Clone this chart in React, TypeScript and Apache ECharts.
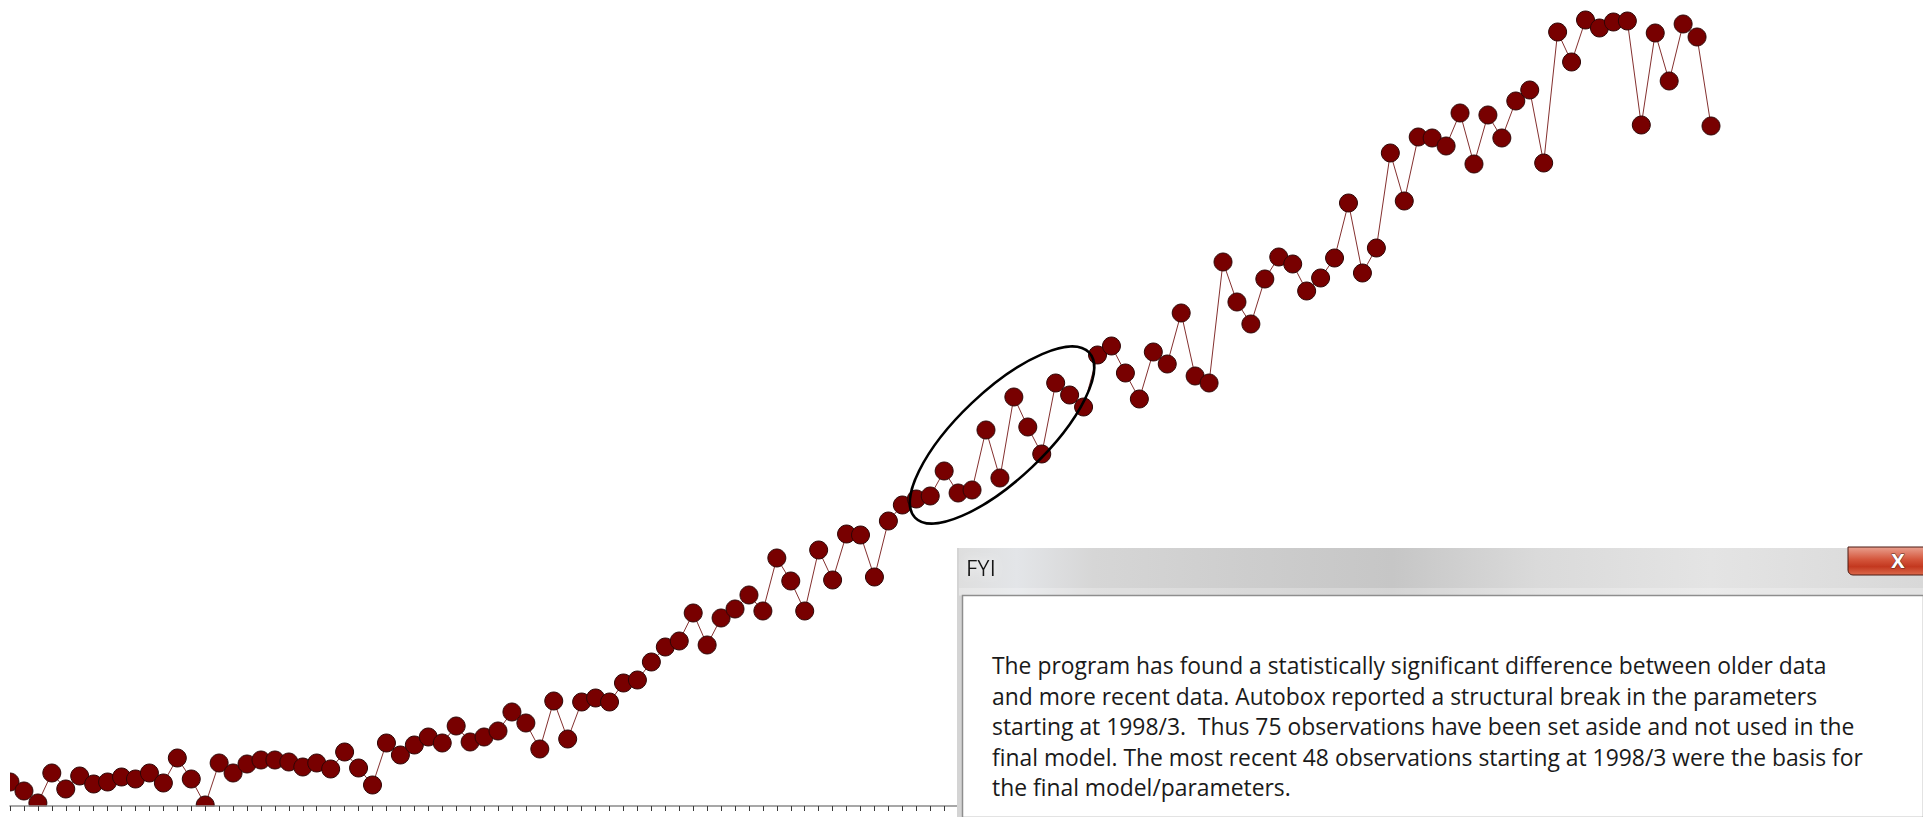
import React, { useEffect, useRef } from "react";
import * as echarts from "echarts";

// ---- data (arbitrary value units, no axis labels shown) ----
const START_YEAR = 1991;
const START_MONTH = 12;

// 75 older observations (set aside by the program)
const olderData: number[] = [
  2.4, 1.5, 0.3, 3.3, 1.7, 3.0, 2.2, 2.4, 2.9, 2.7,
  3.3, 2.3, 4.8, 2.7, 0.1, 4.3, 3.3, 4.2, 4.6, 4.6,
  4.4, 3.9, 4.3, 3.7, 5.4, 3.8, 2.1, 6.3, 5.1, 6.1,
  6.9, 6.3, 8.0, 6.4, 6.9, 7.5, 9.4, 8.3, 5.7, 10.5,
  6.7, 10.4, 10.8, 10.4, 12.3, 12.6, 14.4, 15.9, 16.5, 19.3,
  16.1, 18.8, 19.7, 21.1, 19.5, 24.8, 22.5, 19.5, 25.6, 22.6,
  27.2, 27.1, 22.9, 28.5, 30.1, 30.7, 31.0, 33.5, 31.3, 31.6,
  37.6, 32.8, 40.9, 37.9, 35.2,
];

// 48 most recent observations (from 1998/3)
const recentData: number[] = [
  42.3, 41.1, 39.9, 45.1, 46.0,
  43.3, 40.7, 45.4, 44.2, 49.3, 43.0, 42.3, 54.4, 50.4, 48.2,
  52.7, 54.9, 54.2, 51.5, 52.8, 54.8, 60.3, 53.3, 55.8, 65.3,
  60.5, 66.9, 66.8, 66.0, 69.3, 64.2, 69.1, 66.8, 70.5, 71.6,
  64.3, 77.4, 74.4, 78.6, 77.8, 78.4, 78.5, 68.1, 77.3, 72.5,
  78.2, 76.9, 68.0,
];

const values: number[] = [...olderData, ...recentData];

const categories: string[] = values.map((_, i) => {
  const m = START_MONTH - 1 + i;
  return `${START_YEAR + Math.floor(m / 12)}/${(m % 12) + 1}`;
});

const dialogTitle = "FYI";
const dialogLines: string[] = [
  "The program has found a statistically significant difference between older data",
  "and more recent data. Autobox reported a structural break in the parameters",
  "starting at 1998/3.\u00a0 Thus 75 observations have been set aside and not used in the",
  "final model. The most recent 48 observations starting at 1998/3 were the basis for",
  "the final model/parameters.",
];

const BODY_FONT = '"Open Sans", "Noto Sans", sans-serif';

function measure(text: string, font: string): number {
  const c = document.createElement("canvas").getContext("2d");
  if (!c) return text.length * 12;
  c.font = font;
  return c.measureText(text).width;
}

export default function App() {
  const ref = useRef<HTMLDivElement>(null);

  useEffect(() => {
    if (!ref.current) return;
    const chart = echarts.init(ref.current, null, { renderer: "svg" });

    const bodySize = 24;
    const line1W = measure(dialogLines[0], `${bodySize}px "Open Sans"`);
    const bodyScale = 835 / line1W;

    const W = 1923;
    const H = 817;
    const DX = 957; // dialog left
    const DY = 548; // dialog top
    const DZ = 20;

    chart.setOption({
      animation: false,
      grid: { left: 10, right: 212, top: 6, bottom: 11, containLabel: false },
      xAxis: {
        type: "category",
        data: categories,
        boundaryGap: false,
        z: 10,
        axisLine: { show: true, lineStyle: { color: "#8a8a8a", width: 1.5 } },
        axisTick: {
          show: true,
          interval: 0,
          length: 5,
          lineStyle: { color: "#3a3a3a", width: 1 },
        },
        axisLabel: { show: false },
        splitLine: { show: false },
      },
      yAxis: {
        type: "value",
        min: 0,
        max: 80,
        show: false,
        splitLine: { show: false },
      },
      series: [
        {
          type: "line",
          data: values,
          symbol: "circle",
          symbolSize: 18,
          showSymbol: true,
          showAllSymbol: true,
          clip: false,
          z: 2,
          lineStyle: { color: "#84302f", width: 1 },
          itemStyle: { color: "#780000", borderColor: "#2e0606", borderWidth: 1 },
        },
      ],
      graphic: [
        // clip marks to the plot area (below axis, left of first category)
        { type: "rect", z: 5, silent: true, shape: { x: 0, y: 806.5, width: DX, height: H - 806.5 }, style: { fill: "#ffffff" } },
        { type: "rect", z: 5, silent: true, shape: { x: 0, y: 0, width: 10, height: H }, style: { fill: "#ffffff" } },
        // annotation ellipse
        {
          type: "ellipse",
          x: 1002,
          y: 435,
          rotation: (43.5 * Math.PI) / 180,
          z: 6,
          silent: true,
          shape: { cx: 0, cy: 0, rx: 120, ry: 44 },
          style: { fill: "none", stroke: "#000000", lineWidth: 2.5 },
        },
        // dialog window
        { type: "rect", z: DZ, shape: { x: DX, y: DY, width: W - DX, height: H - DY }, style: { fill: "#d4d4d4" } },
        {
          type: "rect",
          z: DZ,
          shape: { x: DX + 2, y: DY, width: W - DX - 2, height: 48 },
          style: {
            fill: new echarts.graphic.LinearGradient(0, 0, 1, 0, [
              { offset: 0, color: "#dedede" },
              { offset: 0.06, color: "#e3e5e8" },
              { offset: 0.14, color: "#d6d6d6" },
              { offset: 0.3, color: "#cdcdcd" },
              { offset: 0.45, color: "#c6c6c6" },
              { offset: 0.6, color: "#dadada" },
              { offset: 0.78, color: "#e4e4e4" },
              { offset: 1, color: "#d8d8d8" },
            ]),
          },
        },
        { type: "rect", z: DZ, shape: { x: DX + 2, y: DY + 40, width: W - DX - 2, height: 7 }, style: { fill: "rgba(255,255,255,0.25)" } },
        {
          type: "text",
          z: DZ + 1,
          x: 966,
          y: 567,
          style: {
            text: dialogTitle,
            font: `22px ${BODY_FONT}`,
            fill: "#161616",
            align: "left",
            verticalAlign: "middle",
            textShadowColor: "rgba(255,255,255,0.95)",
            textShadowBlur: 10,
          },
        },
        // close button
        {
          type: "rect",
          z: DZ + 1,
          shape: { x: 1848, y: DY - 1, width: 90, height: 28, r: [0, 0, 0, 5] },
          style: {
            fill: new echarts.graphic.LinearGradient(0, 0, 0, 1, [
              { offset: 0, color: "#e9a08f" },
              { offset: 0.45, color: "#d4553b" },
              { offset: 0.7, color: "#c3381f" },
              { offset: 1, color: "#dc6a4c" },
            ]),
            stroke: "#4a1a12",
            lineWidth: 1,
          },
        },
        {
          type: "text",
          z: DZ + 2,
          x: 1898,
          y: 560,
          style: {
            text: "X",
            font: `bold 20px ${BODY_FONT}`,
            fill: "#ffffff",
            stroke: "#5a2a22",
            lineWidth: 1,
            align: "center",
            verticalAlign: "middle",
          },
        },
        // client area
        {
          type: "rect",
          z: DZ + 1,
          shape: { x: 962.5, y: 595.5, width: W - 962, height: H - 595 },
          style: { fill: "#ffffff", stroke: "#8e8e8e", lineWidth: 1.5 },
        },
        {
          type: "text",
          z: DZ + 2,
          x: 992,
          y: 649.5,
          scaleX: bodyScale,
          style: {
            text: dialogLines.join("\n"),
            font: `${bodySize}px ${BODY_FONT}`,
            fill: "#1a1a1a",
            lineHeight: 30.6,
            align: "left",
            verticalAlign: "top",
          },
        },
      ],
    });

    return () => chart.dispose();
  }, []);

  return (
    <div
      ref={ref}
      style={{ position: "fixed", left: 0, top: 0, width: 1923, height: 817, background: "#ffffff" }}
    />
  );
}
